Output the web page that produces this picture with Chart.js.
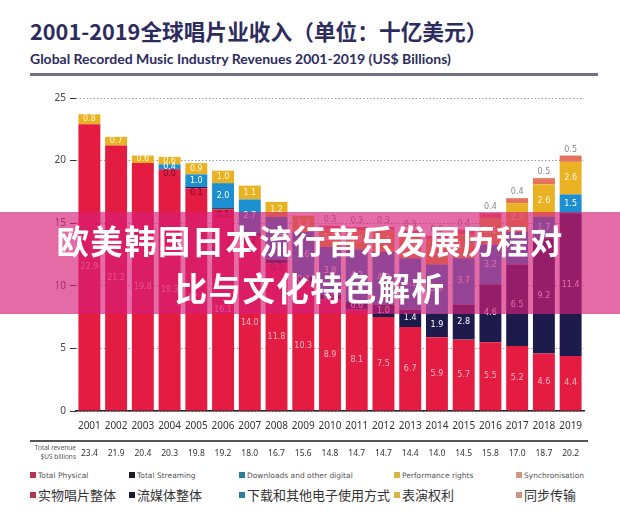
<!DOCTYPE html>
<html>
<head>
<meta charset="utf-8">
<script src="https://cdn.jsdelivr.net/npm/chart.js@4.4.1/dist/chart.umd.min.js"></script>
<style>
body { margin: 0; width: 620px; height: 529px; background: #fff; position: relative; overflow: hidden; font-family: "Noto Sans", sans-serif; }
#title { position: absolute; left: 30px; top: 14px; font: bold 21.7px "Noto Sans CJK SC"; color: #2d2c5e; white-space: nowrap; line-height: 34px; }
#sub { position: absolute; left: 30px; top: 50px; font: bold 14px Lato; color: #2d2c5e; white-space: nowrap; line-height: 18px; }
#rule { position: absolute; left: 30px; top: 73px; width: 568px; height: 3px; background: #707088; }
#wrap { position: absolute; left: 0; top: 88px; width: 620px; height: 382px; }
.leg { position: absolute; white-space: nowrap; }
.en { font: 7.5px "DejaVu Sans"; top: 471px; color: #555; line-height: 10px; }
.zh { font: 13px "Noto Sans CJK SC"; top: 486px; color: #333; line-height: 18px; }
.sq { display: inline-block; width: 6px; height: 6px; margin-right: 2px; }
.zh .sq { vertical-align: 2px; }
#banner { position: absolute; left: 0; top: 212px; width: 620px; height: 98px; padding-top: 4px;
  background: rgba(214, 30, 120, 0.66); color: #fff; font: bold 32.5px "Noto Sans CJK SC";
  text-align: center; line-height: 47px; letter-spacing: 1.3px; }
</style>
</head>
<body>
<div id="title">2001-2019全球唱片业收入（单位：十亿美元）</div>
<div id="sub">Global Recorded Music Industry Revenues 2001-2019 (US$ Billions)</div>
<div id="rule"></div>
<div id="wrap"><canvas id="chart" width="620" height="382"></canvas></div>

<div class="leg en" style="left:30px"><i class="sq" style="background:#b5344e"></i>Total Physical</div>
<div class="leg en" style="left:129px"><i class="sq" style="background:#1c1c30"></i>Total Streaming</div>
<div class="leg en" style="left:239px"><i class="sq" style="background:#2a7f99"></i>Downloads and other digital</div>
<div class="leg en" style="left:394px"><i class="sq" style="background:#d8b440"></i>Performance rights</div>
<div class="leg en" style="left:516px"><i class="sq" style="background:#d49580"></i>Synchronisation</div>

<div class="leg zh" style="left:30px"><i class="sq" style="background:#b5344e"></i>实物唱片整体</div>
<div class="leg zh" style="left:129px"><i class="sq" style="background:#1c1c30"></i>流媒体整体</div>
<div class="leg zh" style="left:239px"><i class="sq" style="background:#2a7f99"></i>下载和其他电子使用方式</div>
<div class="leg zh" style="left:394px"><i class="sq" style="background:#d8b440"></i>表演权利</div>
<div class="leg zh" style="left:516px"><i class="sq" style="background:#d49580"></i>同步传输</div>

<div id="banner">欧美韩国日本流行音乐发展历程对<br>比与文化特色解析</div>

<script>
/* DATA (US$ billions) */
const years = ["2001", "2002", "2003", "2004", "2005", "2006", "2007", "2008", "2009", "2010",
               "2011", "2012", "2013", "2014", "2015", "2016", "2017", "2018", "2019"];
const physical    = [22.9, 21.2, 19.8, 19.3, 17.8, 16.1, 14.0, 11.8, 10.3, 8.9, 8.1, 7.5, 6.7, 5.9, 5.7, 5.5, 5.2, 4.6, 4.4];
const streaming   = [null, null, null, 0.0, 0.1, 0.1, 0.2, 0.3, 0.4, 0.4, 0.6, 1.0, 1.4, 1.9, 2.8, 4.6, 6.5, 9.2, 11.4];
const downloads   = [null, null, null, 0.4, 1.0, 2.0, 2.7, 3.4, 3.6, 3.8, 4.2, 4.2, 4.1, 3.9, 3.7, 3.2, 2.6, 1.7, 1.5];
const performance = [0.8, 0.7, 0.6, 0.6, 0.9, 1.0, 1.1, 1.2, 1.3, 1.4, 1.5, 1.7, 1.9, 2.0, 1.9, 2.1, 2.3, 2.6, 2.6];
const sync        = [null, null, null, null, null, null, null, null, null, 0.3, 0.3, 0.3, 0.3, 0.3, 0.4, 0.4, 0.4, 0.5, 0.5];
const totals = ["23.4", "21.9", "20.4", "20.3", "19.8", "19.2", "18.0", "16.7", "15.6", "14.8",
                "14.7", "14.7", "14.4", "14.0", "14.5", "15.8", "17.0", "18.7", "20.2"];

/* segment labels + total revenue row */
const labelPlugin = {
    id: "segLabels",
    afterDatasetsDraw(chart) {
        const ctx = chart.ctx;
        ctx.save();
        ctx.font = '8px "DejaVu Sans"';
        ctx.textAlign = "center";
        ctx.textBaseline = "middle";
        chart.data.datasets.forEach((ds, i) => {
            const meta = chart.getDatasetMeta(i);
            meta.data.forEach((bar, j) => {
                const v = ds.data[j];
                if (v === null) return;
                const top = Math.min(bar.y, bar.base);
                const bot = Math.max(bar.y, bar.base);
                let y = (top + bot) / 2;
                let col = ds.labelColor;
                if (ds.labelAbove) {
                    y = top - 6;
                } else if (bot - top < 5) {
                    y = bot + 5;
                    col = "#6a0f2c";
                }
                ctx.fillStyle = col;
                ctx.fillText(v.toFixed(1), bar.x, y);
            });
        });
        ctx.restore();
    },
    afterDraw(chart) {
        const { ctx, chartArea } = chart;
        const xs = chart.scales.x;
        ctx.save();
        ctx.strokeStyle = "#555";
        ctx.lineWidth = 2;
        const ly = chartArea.bottom + 30;
        ctx.beginPath();
        ctx.moveTo(30, ly);
        ctx.lineTo(588, ly);
        ctx.stroke();

        ctx.font = '8.5px "Noto Sans"';
        ctx.fillStyle = "#333";
        ctx.textAlign = "center";
        ctx.textBaseline = "middle";
        totals.forEach((t, j) => ctx.fillText(t, xs.getPixelForValue(j), chartArea.bottom + 43));

        ctx.font = '6.5px "Noto Sans"';
        ctx.textAlign = "right";
        ctx.fillStyle = "#555";
        ctx.fillText("Total revenue", 76, chartArea.bottom + 37);
        ctx.fillText("$US billions", 76, chartArea.bottom + 46);
        ctx.restore();
    }
};

new Chart(document.getElementById("chart"), {
    type: "bar",
    data: {
        labels: years,
        datasets: [
            { label: "Total Physical", data: physical, backgroundColor: "#e51c41", labelColor: "#f7b9c6" },
            { label: "Total Streaming", data: streaming, backgroundColor: "#1d1b4c", labelColor: "#ffffff" },
            { label: "Downloads and other digital", data: downloads, backgroundColor: "#1b8fcf", labelColor: "#ffffff" },
            { label: "Performance rights", data: performance, backgroundColor: "#e8b223", labelColor: "#fff6dc" },
            { label: "Synchronisation", data: sync, backgroundColor: "#e4725e", labelColor: "#8a8a8a", labelAbove: true }
        ]
    },
    options: {
        responsive: false,
        animation: false,
        barPercentage: 0.82,
        categoryPercentage: 1.0,
        layout: { padding: { top: 8, right: 36, bottom: 39, left: 0 } },
        plugins: { legend: { display: false }, tooltip: { enabled: false } },
        scales: {
            x: {
                stacked: true,
                grid: { display: false, drawTicks: false },
                border: { color: "#222", width: 1.5 },
                ticks: { font: { family: "Noto Sans", size: 10 }, color: "#333", padding: 9, maxRotation: 0, autoSkip: false },
                afterFit(s) { s.height = 20; }
            },
            y: {
                stacked: true,
                min: 0,
                max: 25,
                ticks: { stepSize: 5, font: { family: "Noto Sans", size: 10 }, color: "#444", padding: 4 },
                grid: { color: "#9a9a9a", tickColor: "#333", tickLength: 6 },
                border: { display: false, dash: [1.5, 2] },
                afterFit(s) { s.width = 76; }
            }
        }
    },
    plugins: [labelPlugin]
});
</script>
</body>
</html>
